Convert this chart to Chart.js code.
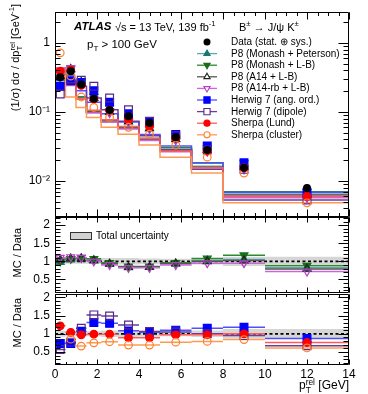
<!DOCTYPE html>
<html>
<head>
<meta charset="utf-8">
<script src="https://cdn.jsdelivr.net/npm/chart.js@4.4.1/dist/chart.umd.min.js"></script>
<style>
  body { margin: 0; background: #fff; }
  #wrap { position: relative; width: 368px; height: 394px; overflow: hidden; font-family: "Liberation Sans", Arial, sans-serif; color: #000; }
  canvas { position: absolute; left: 0; }
  .t { position: absolute; white-space: nowrap; line-height: 1; font-size: 11px; }
  .leg { position: absolute; left: 231px; font-size: 10px; white-space: nowrap; line-height: 12px; }
  .rot { position: absolute; white-space: nowrap; line-height: 1; font-size: 11px; transform-origin: 0 0; transform: rotate(-90deg) translate(-100%, -50%); }
  .ss { display: inline-block; vertical-align: middle; font-size: 70%; line-height: 0.95; text-align: left; }
  sup { font-size: 70%; line-height: 0; }
</style>
</head>
<body>
<div id="wrap">
  <canvas id="cTop" width="368" height="230" style="top:0"></canvas>
  <canvas id="cMid" width="368" height="100" style="top:205px"></canvas>
  <canvas id="cBot" width="368" height="112" style="top:282px"></canvas>

  <div class="t" style="left:74px;top:21px;font-size:11.5px;font-weight:bold;font-style:italic">ATLAS</div>
  <div class="t" style="left:115px;top:21.5px">√s = 13 TeV, 139 fb<sup>-1</sup></div>
  <div class="t" style="left:239px;top:21.5px">B<sup>±</sup> → J/ψ K<sup>±</sup></div>
  <div class="t" style="left:87px;top:37px;font-size:11.5px">p<span class="ss"><br>T</span> &gt; 100 GeV</div>

  <div class="leg" style="top:36px">Data (stat. ⊕ sys.)</div>
  <div class="leg" style="top:47.6px">P8 (Monash + Peterson)</div>
  <div class="leg" style="top:59.2px">P8 (Monash + L-B)</div>
  <div class="leg" style="top:70.8px">P8 (A14 + L-B)</div>
  <div class="leg" style="top:82.4px">P8 (A14-rb + L-B)</div>
  <div class="leg" style="top:94px">Herwig 7 (ang. ord.)</div>
  <div class="leg" style="top:105.6px">Herwig 7 (dipole)</div>
  <div class="leg" style="top:117.2px">Sherpa (Lund)</div>
  <div class="leg" style="top:128.8px">Sherpa (cluster)</div>
  <div class="leg" style="left:96px;top:230px">Total uncertainty</div>

  <div class="rot" style="left:16px;top:4px">(1/σ) dσ / dp<span class="ss">rel<br>T</span> [GeV<sup>-1</sup>]</div>
  <div class="rot" style="left:17px;top:228px">MC / Data</div>
  <div class="rot" style="left:17px;top:298px">MC / Data</div>
  <div class="t" style="right:19px;top:378px;font-size:12px">p<span class="ss">rel<br>T</span> [GeV]</div>
</div>
<script>
// bins in p_T^rel [GeV]
const binEdges = [0, 0.5, 1, 1.5, 2.2, 3, 4, 5, 6.5, 8, 10, 14];
const binCenters = [0.25, 0.75, 1.25, 1.85, 2.6, 3.5, 4.5, 5.75, 7.25, 9, 12];

// data (1/sigma dsigma/dpT^rel) and relative total uncertainty
const dataValues = [0.32, 0.39, 0.25, 0.155, 0.107, 0.087, 0.069, 0.043, 0.028, 0.0155, 0.0079];
const dataRelUnc = [0.12, 0.08, 0.07, 0.07, 0.07, 0.09, 0.09, 0.08, 0.07, 0.09, 0.13];

// MC / Data ratios
const ratioP8MonashPeterson = [0.98, 1.05, 1.08, 1.03, 0.93, 0.83, 0.84, 0.93, 1.02, 1.05, 0.82];
const ratioP8MonashLB       = [1.00, 1.07, 1.10, 1.07, 0.96, 0.86, 0.86, 0.96, 1.08, 1.17, 0.88];
const ratioP8A14LB          = [1.04, 1.08, 1.08, 1.02, 0.93, 0.84, 0.84, 0.94, 1.00, 1.02, 0.79];
const ratioP8A14rbLB        = [1.10, 1.12, 1.10, 1.00, 0.90, 0.82, 0.82, 0.90, 0.95, 0.95, 0.72];
const ratioHerwigAngOrd     = [0.73, 0.73, 1.07, 1.31, 1.29, 1.08, 1.04, 1.10, 1.15, 1.18, 0.87];
const ratioHerwigDipole     = [0.57, 0.77, 1.15, 1.52, 1.49, 1.24, 1.06, 1.05, 1.00, 0.95, 0.67];
const ratioSherpaLund       = [1.22, 1.04, 0.97, 0.99, 0.99, 0.89, 0.89, 0.97, 0.97, 1.00, 0.76];
const ratioSherpaCluster    = [2.25, 0.85, 0.66, 0.75, 0.78, 0.69, 0.69, 0.77, 0.79, 0.84, 0.61];

// ticks
const xTickValues = [0, 2, 4, 6, 8, 10, 12, 14];
const logTickValues = [0.01, 0.1, 1];
const ratioTickValues = [0.5, 1, 1.5, 2];

const FONT = '"Liberation Sans", Arial, sans-serif';

const models = [
  { ratio: ratioP8MonashPeterson, line: '#5aaaaa', marker: '#147878', style: 'triangle', rot: 0, open: false, r: 4.5 },
  { ratio: ratioP8MonashLB, line: '#2f8a2f', marker: '#176e17', style: 'triangle', rot: 180, open: false, r: 4.5 },
  { ratio: ratioP8A14LB, line: '#555555', marker: '#222222', style: 'triangle', rot: 0, open: true, r: 4.5 },
  { ratio: ratioP8A14rbLB, line: '#cc66d6', marker: '#b53cc4', style: 'triangle', rot: 180, open: true, r: 4.5 },
  { ratio: ratioHerwigAngOrd, line: '#5050ff', marker: '#0000ff', style: 'rect', rot: 0, open: false, r: 5.5 },
  { ratio: ratioHerwigDipole, line: '#6a3d9a', marker: '#55288a', style: 'rect', rot: 0, open: true, r: 5.5 },
  { ratio: ratioSherpaLund, line: '#ff5a5a', marker: '#ff0000', style: 'circle', rot: 0, open: false, r: 3.8 },
  { ratio: ratioSherpaCluster, line: '#ff9a55', marker: '#ff7f2a', style: 'circle', rot: 0, open: true, r: 3.8 }
];

function histPoints(vals) {
  const pts = vals.map((v, i) => ({ x: binEdges[i], y: v }));
  pts.push({ x: binEdges[vals.length], y: vals[vals.length - 1] });
  return pts;
}
function segPoints(vals) {
  const pts = [];
  vals.forEach((v, i) => {
    pts.push({ x: binEdges[i], y: v }, { x: binEdges[i + 1], y: v }, { x: binEdges[i + 1], y: null });
  });
  return pts;
}
function centerPoints(vals) {
  return binCenters.map((x, i) => ({ x, y: vals[i] }));
}
function range(a, b, step) {
  const out = [];
  for (let v = a; v <= b + 1e-9; v += step) out.push(Math.round(v * 1000) / 1000);
  return out;
}

// frame with inner ticks on all four sides
const frameTicks = {
  id: 'frameTicks',
  afterDraw(chart, args, o) {
    const { ctx, chartArea: a } = chart;
    const xs = chart.scales.x, ys = chart.scales.y;
    const L = Math.round(a.left) + 0.5, R = Math.round(a.right) - 0.5;
    const T = Math.round(a.top) + 0.5, B = Math.round(a.bottom) - 0.5;
    ctx.save();
    ctx.strokeStyle = '#000';
    ctx.lineWidth = 1;
    ctx.beginPath();
    ctx.rect(L, T, R - L, B - T);
    const xt = (v, len) => {
      const p = Math.round(xs.getPixelForValue(v)) + 0.5;
      ctx.moveTo(p, B); ctx.lineTo(p, B - len);
      ctx.moveTo(p, T); ctx.lineTo(p, T + len);
    };
    const yt = (v, len) => {
      if (v < ys.min || v > ys.max) return;
      const p = Math.round(ys.getPixelForValue(v)) + 0.5;
      ctx.moveTo(L, p); ctx.lineTo(L + len, p);
      ctx.moveTo(R, p); ctx.lineTo(R - len, p);
    };
    o.xMinor.forEach(v => xt(v, o.xMinLen));
    o.xMajor.forEach(v => xt(v, o.xMajLen));
    o.yMinor.forEach(v => yt(v, o.yMinLen));
    o.yMajor.forEach(v => yt(v, o.yMajLen));
    ctx.stroke();
    ctx.restore();
  }
};

// data error bars (top panel)
const dataErrors = {
  id: 'dataErrors',
  afterDatasetsDraw(chart) {
    const { ctx } = chart;
    const xs = chart.scales.x, ys = chart.scales.y;
    ctx.save();
    ctx.strokeStyle = '#000';
    ctx.lineWidth = 1.5;
    ctx.beginPath();
    dataValues.forEach((v, i) => {
      const px = xs.getPixelForValue(binCenters[i]);
      ctx.moveTo(px, ys.getPixelForValue(v * (1 + dataRelUnc[i])));
      ctx.lineTo(px, ys.getPixelForValue(v * (1 - dataRelUnc[i])));
    });
    ctx.stroke();
    ctx.restore();
  }
};

// legend symbols (top panel)
const legendSymbols = {
  id: 'legendSymbols',
  afterDraw(chart) {
    const ctx = chart.ctx;
    ctx.save();
    ctx.fillStyle = '#000';
    Chart.helpers.drawPoint(ctx, { pointStyle: 'circle', radius: 3.5, borderWidth: 0 }, 207, 42);
    models.forEach((m, i) => {
      const y = 53.6 + i * 11.6;
      ctx.strokeStyle = m.line;
      ctx.lineWidth = 1.3;
      ctx.beginPath();
      ctx.moveTo(197, y); ctx.lineTo(217, y);
      ctx.stroke();
      ctx.fillStyle = m.open ? '#fff' : m.marker;
      ctx.strokeStyle = m.marker;
      ctx.lineWidth = 1.1;
      Chart.helpers.drawPoint(ctx, { pointStyle: m.style, rotation: m.rot, radius: m.r * 0.8, borderWidth: 1.1 }, 207, y);
    });
    ctx.restore();
  }
};

// "Total uncertainty" box (middle panel)
const bandLegend = {
  id: 'bandLegend',
  afterDraw(chart) {
    const ctx = chart.ctx;
    ctx.save();
    ctx.fillStyle = '#d2d2d2';
    ctx.strokeStyle = '#333';
    ctx.lineWidth = 1;
    ctx.fillRect(70.5, 27.5, 21, 7);
    ctx.strokeRect(70.5, 27.5, 21, 7);
    ctx.restore();
  }
};

function yAxisCommon(extra) {
  return Object.assign({
    grid: { display: false, drawTicks: false },
    border: { display: false },
    afterFit: s => { s.width = 55; },
    ticks: { font: { family: FONT, size: 12 }, color: '#000', padding: 5 }
  }, extra);
}

// ---------- top panel ----------
const topDatasets = [{
  type: 'scatter',
  data: centerPoints(dataValues),
  pointStyle: 'circle', pointRadius: 4, backgroundColor: '#000', borderColor: '#000', borderWidth: 0,
  order: 0
}];
models.forEach((m, k) => {
  const vals = m.ratio.map((r, i) => r * dataValues[i]);
  topDatasets.push({
    type: 'line', data: histPoints(vals), stepped: 'after',
    borderColor: m.line, borderWidth: 1.5, pointRadius: 0, fill: false, order: 40 - k
  });
  topDatasets.push({
    type: 'scatter', data: centerPoints(vals),
    pointStyle: m.style, rotation: m.rot, pointRadius: m.r,
    backgroundColor: m.open ? 'rgba(255,255,255,0)' : m.marker, borderColor: m.marker, borderWidth: 1.2,
    order: 20 - k
  });
});

const logMinor = [];
[0.001, 0.01, 0.1, 1].forEach(d => { for (let k = 2; k <= 9; k++) logMinor.push(d * k); });

new Chart(document.getElementById('cTop'), {
  type: 'scatter',
  data: { datasets: topDatasets },
  plugins: [frameTicks, dataErrors, legendSymbols],
  options: {
    responsive: false, animation: false,
    layout: { padding: { top: 12, bottom: 13, left: 0, right: 19 } },
    plugins: {
      legend: { display: false }, tooltip: { enabled: false },
      frameTicks: { xMajor: xTickValues, xMinor: range(0, 14, 0.5), xMajLen: 7, xMinLen: 3.5,
                    yMajor: logTickValues, yMinor: logMinor, yMajLen: 10, yMinLen: 5 }
    },
    scales: {
      x: { type: 'linear', min: 0, max: 14, display: false },
      y: yAxisCommon({
        type: 'logarithmic', min: 0.003, max: 2.8,
        afterBuildTicks: s => { s.ticks = logTickValues.map(v => ({ value: v })); },
        ticks: { font: { family: FONT, size: 12 }, color: '#000', padding: 5,
                 callback: v => (v === 1 ? '1' : v === 0.1 ? '10⁻¹' : v === 0.01 ? '10⁻²' : '') }
      })
    }
  }
});

// ---------- ratio panels ----------
function ratioDatasets(list) {
  const ds = [
    { type: 'line', data: histPoints(dataRelUnc.map(u => 1 - u)), stepped: 'after', borderWidth: 0, pointRadius: 0, fill: false, order: 100 },
    { type: 'line', data: histPoints(dataRelUnc.map(u => 1 + u)), stepped: 'after', borderWidth: 0, pointRadius: 0, fill: '-1', backgroundColor: 'rgba(200,200,200,0.75)', order: 99 },
    { type: 'line', data: [{ x: 0, y: 1 }, { x: 14, y: 1 }], borderColor: '#000', borderWidth: 1.8, borderDash: [3, 2.5], pointRadius: 0, fill: false, order: 90 }
  ];
  list.forEach((m, k) => {
    ds.push({ type: 'line', data: segPoints(m.ratio), borderColor: m.line, borderWidth: 1.5, pointRadius: 0, fill: false, spanGaps: false, order: 60 - k });
    ds.push({ type: 'scatter', data: centerPoints(m.ratio), pointStyle: m.style, rotation: m.rot, pointRadius: m.r,
              backgroundColor: m.open ? 'rgba(255,255,255,0)' : m.marker, borderColor: m.marker, borderWidth: 1.2, order: 30 - k });
  });
  return ds;
}
function ratioY(min, max) {
  return yAxisCommon({
    type: 'linear', min, max,
    afterBuildTicks: s => { s.ticks = ratioTickValues.map(v => ({ value: v })); },
    ticks: { font: { family: FONT, size: 12 }, color: '#000', padding: 5, callback: v => String(v) }
  });
}
const ratioFrame = { xMajor: xTickValues, xMinor: range(0, 14, 0.5), xMajLen: 5, xMinLen: 2.5,
                     yMajor: ratioTickValues, yMinor: range(0.1, 2.3, 0.1), yMajLen: 10, yMinLen: 5 };

new Chart(document.getElementById('cMid'), {
  type: 'scatter',
  data: { datasets: ratioDatasets(models.slice(0, 4)) },
  plugins: [frameTicks, bandLegend],
  options: {
    responsive: false, animation: false,
    layout: { padding: { top: 12, bottom: 11, left: 0, right: 19 } },
    plugins: { legend: { display: false }, tooltip: { enabled: false }, frameTicks: ratioFrame },
    scales: {
      x: { type: 'linear', min: 0, max: 14, display: false },
      y: ratioY(0.13, 2.22)
    }
  }
});

new Chart(document.getElementById('cBot'), {
  type: 'scatter',
  data: { datasets: ratioDatasets(models.slice(4)) },
  plugins: [frameTicks],
  options: {
    responsive: false, animation: false,
    layout: { padding: { top: 12, bottom: 0, left: 0, right: 19 } },
    plugins: { legend: { display: false }, tooltip: { enabled: false }, frameTicks: ratioFrame },
    scales: {
      x: {
        type: 'linear', min: 0, max: 14,
        grid: { display: false, drawTicks: false }, border: { display: false },
        afterBuildTicks: s => { s.ticks = xTickValues.map(v => ({ value: v })); },
        afterFit: s => { s.height = 29; },
        ticks: { font: { family: FONT, size: 12 }, color: '#000', padding: 2, maxRotation: 0, autoSkip: false }
      },
      y: ratioY(0.14, 2.09)
    }
  }
});
</script>
</body>
</html>
